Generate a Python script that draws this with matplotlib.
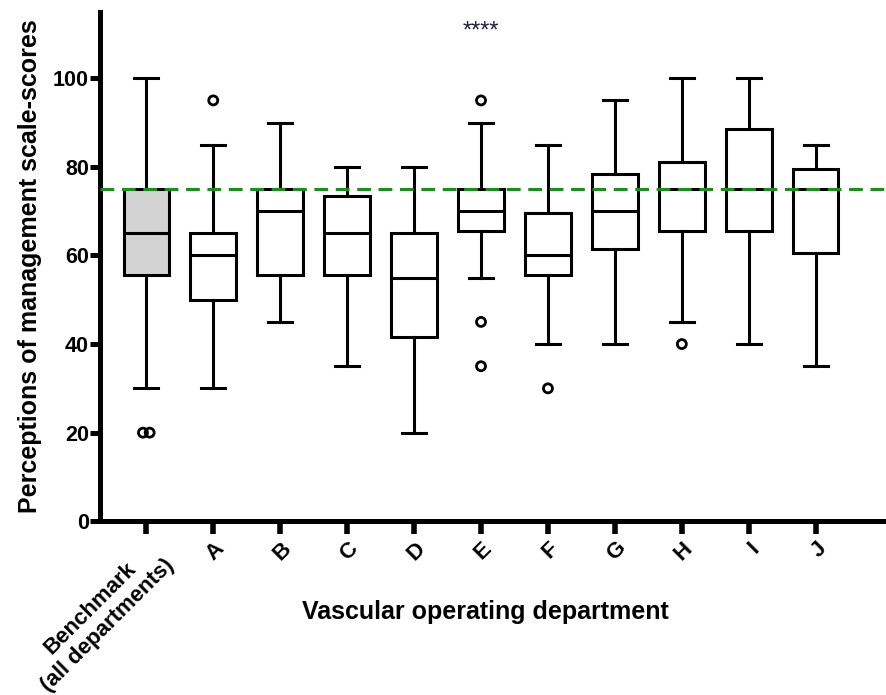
import numpy as np
import matplotlib.pyplot as plt

plt.rcParams['font.family'] = ['Liberation Sans', 'DejaVu Sans']

# Box statistics per department (read as quartiles / whisker ends)
labels = ['Benchmark\n(all departments)', 'A', 'B', 'C', 'D', 'E', 'F', 'G', 'H', 'I', 'J']
whislo = [30, 30, 45, 35, 20, 55, 40, 40, 45, 40, 35]
q1 = [55.5, 50, 55.5, 55.5, 41.5, 65.5, 55.5, 61.5, 65.5, 65.5, 60.5]
med = [65, 60, 70, 65, 55, 70, 60, 70, 75, 75, 75]
q3 = [75, 65, 75, 73.5, 65, 75, 69.5, 78.5, 81, 88.5, 79.5]
whishi = [100, 85, 90, 80, 80, 90, 85, 95, 100, 100, 85]
fliers = [[20, 20], [95], [], [], [], [95, 45, 35], [30], [], [40], [], []]

benchmark = 75
sig_group = 'E'
sig_text = '****'

stats = []
for i in range(len(labels)):
    stats.append(dict(label=labels[i], whislo=whislo[i], q1=q1[i], med=med[i],
                      q3=q3[i], whishi=whishi[i], fliers=[]))

fig = plt.figure(figsize=(8.86, 6.95), dpi=100)
ax = fig.add_axes([0.113, 0.25, 0.887, 0.733])

pos = np.arange(len(labels))
lw = 2.2
bp = ax.bxp(stats, positions=pos, widths=0.68, capwidths=0.36, showfliers=False,
            patch_artist=True,
            boxprops=dict(linewidth=lw, edgecolor='black', facecolor='white'),
            whiskerprops=dict(linewidth=lw, color='black'),
            capprops=dict(linewidth=lw, color='black'),
            medianprops=dict(linewidth=lw, color='black'))
bp['boxes'][0].set_facecolor('#d3d3d3')

# outliers; repeated values are spread sideways so both show
for i, vals in enumerate(fliers):
    for v in set(vals):
        n = vals.count(v)
        offs = (np.arange(n) - (n - 1) / 2) * 0.1
        ax.scatter(pos[i] + offs, [v] * n, s=42, facecolors='none',
                   edgecolors='black', linewidths=2, zorder=3)

ax.axhline(benchmark, color='#179117', lw=2.2, ls=(0, (4.5, 2.5)), zorder=5)

ax.text(pos[labels.index(sig_group)], 110.5, sig_text, ha='center', va='center',
        fontsize=17, color='#1c1c3c')

ax.set_xlim(-0.69, 11.05)
ax.set_ylim(0, 115)
ax.set_yticks([0, 20, 40, 60, 80, 100])
ax.set_xticks(pos)
ax.set_xticklabels(labels, rotation=45, ha='right', rotation_mode='anchor',
                   multialignment='center', fontweight='bold', fontsize=16)
for t in ax.get_yticklabels():
    t.set_fontweight('bold')
    t.set_fontsize(15.5)

for s in ['top', 'right']:
    ax.spines[s].set_visible(False)
for s in ['left', 'bottom']:
    ax.spines[s].set_linewidth(3.6)
ax.tick_params(axis='y', width=3.6, length=7, pad=1)
ax.tick_params(axis='x', width=4, length=9, pad=3)

ax.set_ylabel('Perceptions of management scale-scores', fontsize=18,
              fontweight='bold', labelpad=8)
fig.text(485 / 886, 1 - 612 / 695, 'Vascular operating department',
         fontsize=18, fontweight='bold', ha='center', va='center')

fig.savefig('out.png', dpi=100)
